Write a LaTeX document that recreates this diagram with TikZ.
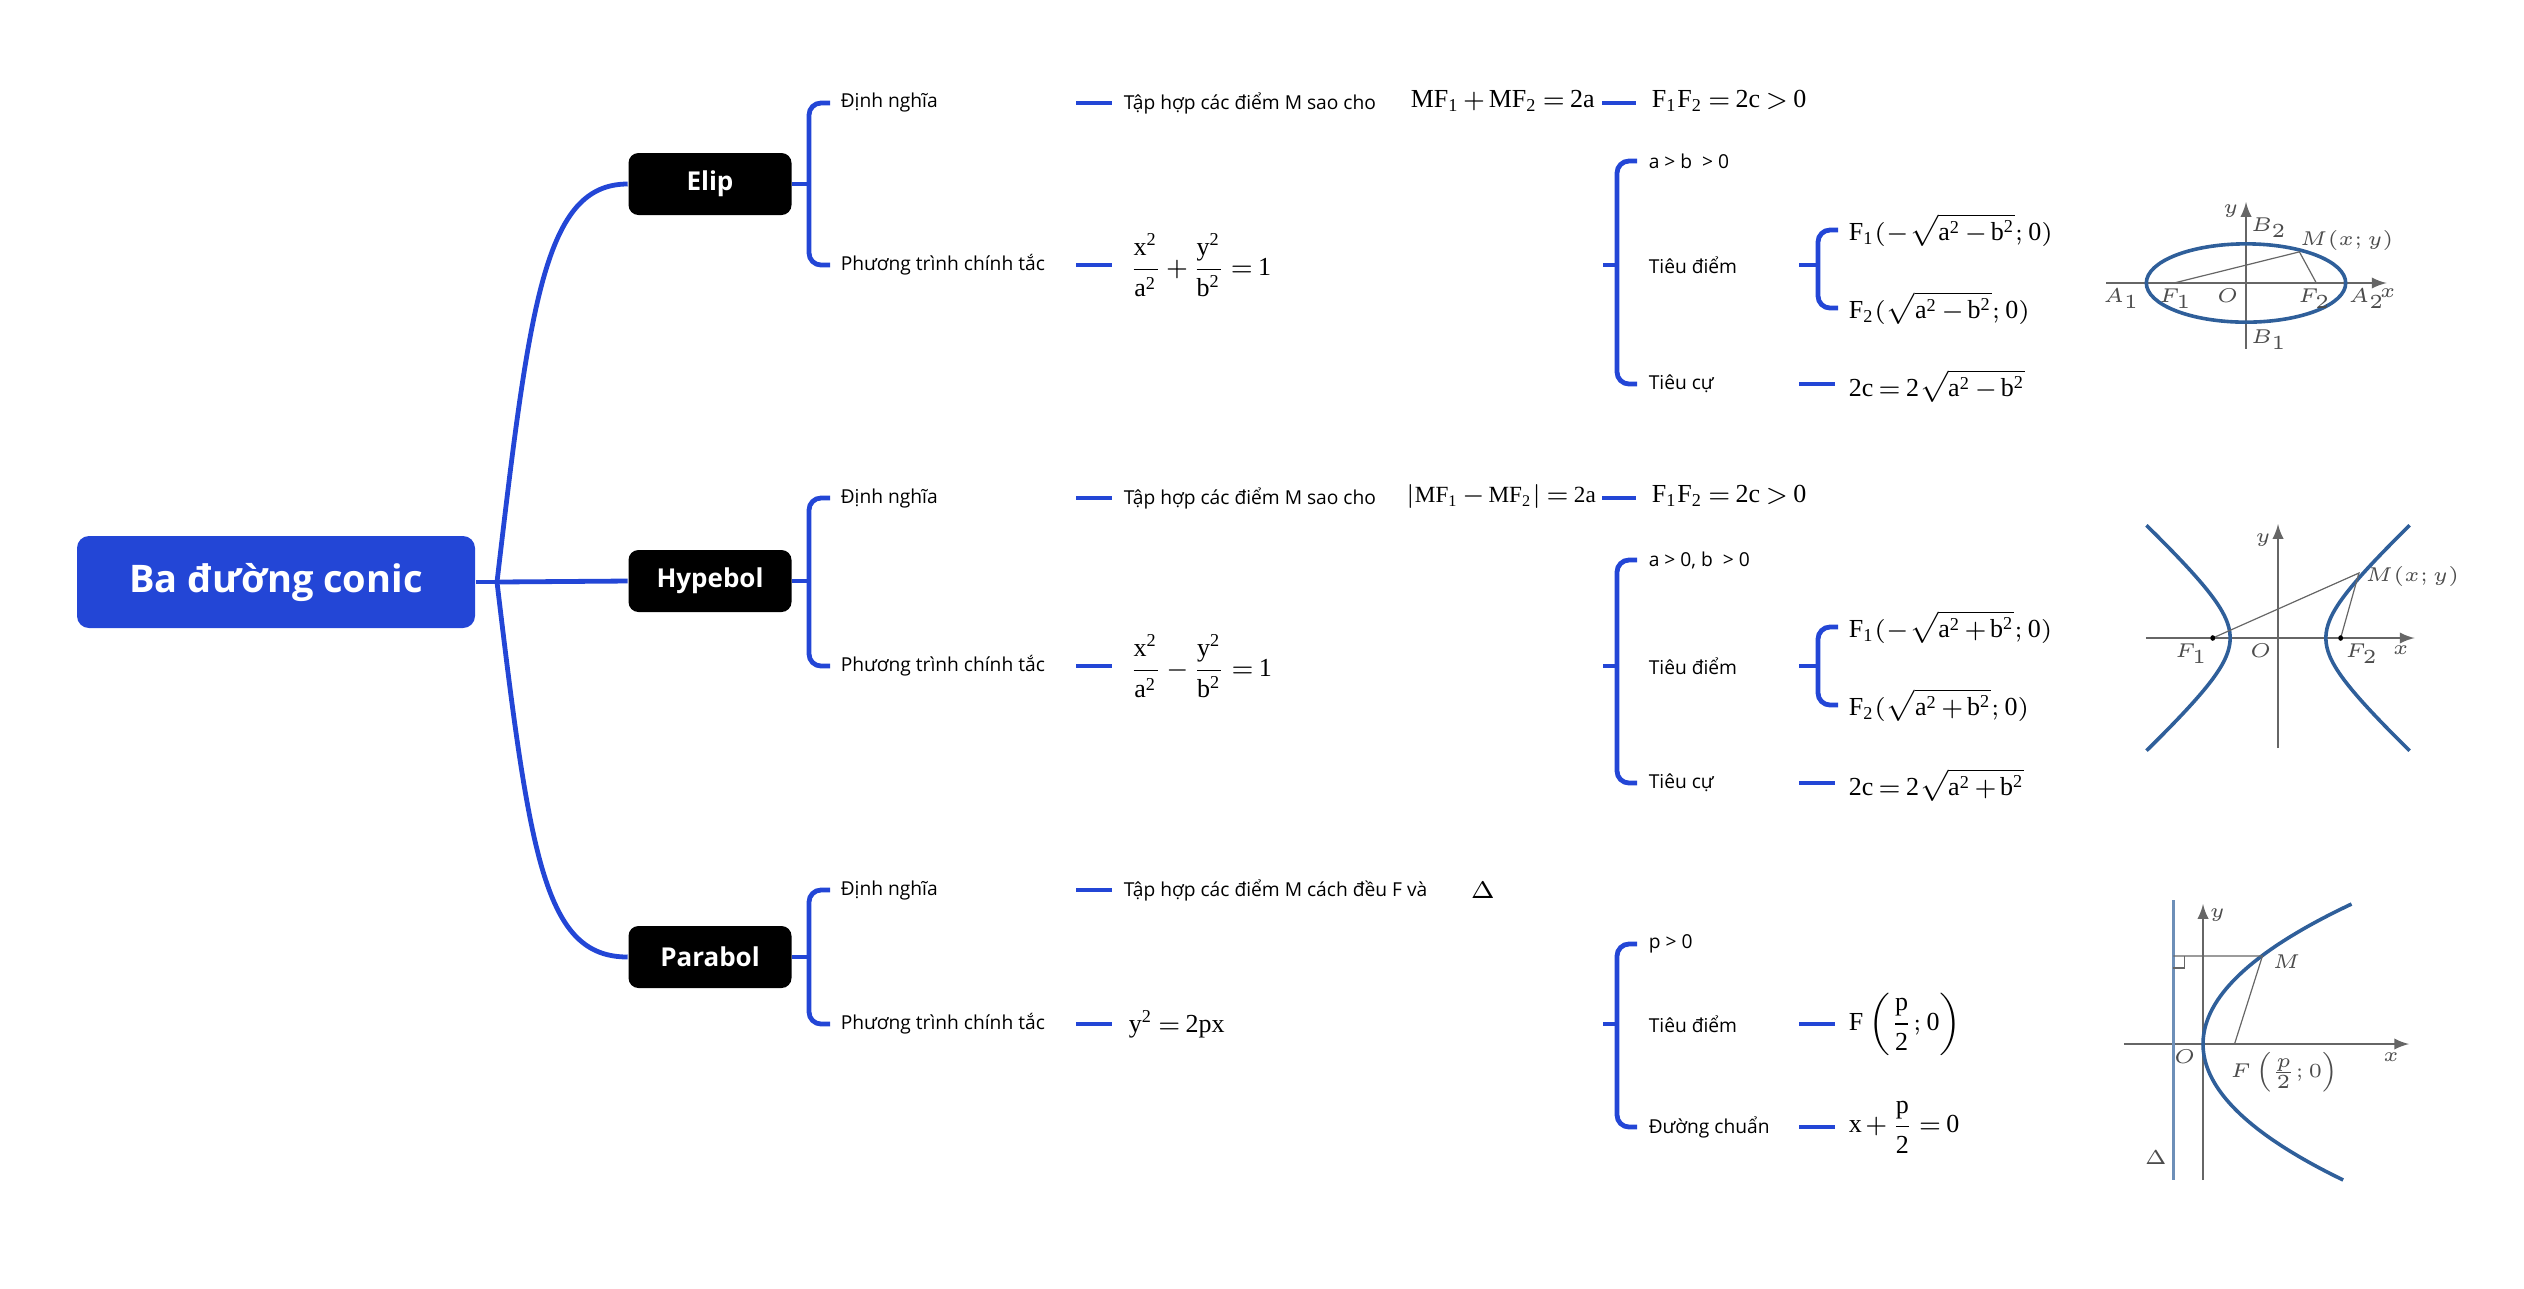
\documentclass[tikz,border=0pt]{standalone}
\usepackage{amsmath}
\usepackage[no-math]{fontspec}
\setmainfont{Open Sans}
\newfontfamily\tnrfam{Liberation Serif}
\newcommand{\tnrx}[1]{\text{\tnrfam #1}}
\newcommand{\tightmath}{\medmuskip=2mu\relax\thickmuskip=3mu\relax}
\begin{document}
\definecolor{mblue}{HTML}{2346D6}
\definecolor{cblue}{HTML}{2F5F9A}
\begin{tikzpicture}[x=0.25pt,y=-0.25pt,
  br/.style={draw=mblue,line width=1.2pt,rounded corners=3pt},
  txt/.style={anchor=west,inner sep=0pt,font=\fontsize{4.8}{6}\selectfont},
  fm/.style={anchor=west,inner sep=0pt,font=\fontsize{6.5}{7}\selectfont\tightmath},
  box/.style={fill=black,rounded corners=2.5pt,text=white,minimum width=163*0.25pt,minimum height=62*0.25pt,font=\bfseries\fontsize{6.5}{7}\selectfont,inner sep=0pt},
  ax/.style={line width=0.3pt,draw=gray!80!black},
  crv/.style={line width=0.9pt,draw=cblue},
  lb/.style={font=\fontsize{4.2}{5}\selectfont,inner sep=1pt,text=black!70}]
\useasboundingbox (0,0) rectangle (2524,1288);
\node[fill=mblue,rounded corners=3pt,text=white,minimum width=398*0.25pt,minimum height=92*0.25pt,font=\bfseries\fontsize{9.5}{10}\selectfont,inner sep=0pt] (root) at (276,582) {Ba đường conic};
\node[box] (elip) at (710,184) {Elip};
\node[box] (hyp) at (710,581) {Hypebol};
\node[box] (par) at (710,957) {Parabol};
\coordinate (hub) at (497,582);
\draw[br] (root.east) -- (hub);
\draw[br] (hub) .. controls (530,300) and (545,184) .. (elip.west);
\draw[br] (hub) -- (hyp.west);
\draw[br] (hub) .. controls (530,860) and (545,957) .. (par.west);

% Elip
\node[txt] (e1) at (840,103) {Định nghĩa};
\node[txt] (e2) at (840,265) {Phương trình chính tắc};
\draw[br] (elip.east) -- (809,184);
\draw[br] (830,103) -- (809,103) -- (809,265) -- (830,265);
\node[txt] (e1a) at (1123,103) {Tập hợp các điểm M sao cho};
\node[fm] (e1b) at (1410,101) {$\tnrx{MF}_{\tnrx{1}}+\tnrx{MF}_{\tnrx{2}}=\tnrx{2a}$};
\node[fm] (e1c) at (1651,101) {$\tnrx{F}_{\tnrx{1}}\tnrx{F}_{\tnrx{2}}=\tnrx{2c}>\tnrx{0}$};
\draw[br] (1076,103) -- (1112,103);
\draw[br] (1602,103) -- (1636,103);
\draw[br] (1076,265) -- (1112,265);
\node[fm] (e2a) at (1128,265) {$\dfrac{\tnrx{x}^{\tnrx{2}}}{\tnrx{a}^{\tnrx{2}}}+\dfrac{\tnrx{y}^{\tnrx{2}}}{\tnrx{b}^{\tnrx{2}}}=\tnrx{1}$};
\node[txt] (e3) at (1648,161) {a > b \ > 0};
\node[txt] (e4) at (1648,265) {Tiêu điểm};
\node[txt] (e5) at (1648,384) {Tiêu cự};
\draw[br] (1603,265) -- (1617,265);
\draw[br] (1637,161) -- (1617,161) -- (1617,384) -- (1637,384);
\draw[br] (1799,265) -- (1818,265);
\draw[br] (1838,230) -- (1818,230) -- (1818,308) -- (1838,308);
\node[fm] (e6) at (1848,230) {$\tnrx{F}_{\tnrx{1}}(-\sqrt{\tnrx{a}^{\tnrx{2}}-\tnrx{b}^{\tnrx{2}}};\tnrx{0})$};
\node[fm] (e7) at (1848,308) {$\tnrx{F}_{\tnrx{2}}(\sqrt{\tnrx{a}^{\tnrx{2}}-\tnrx{b}^{\tnrx{2}}};\tnrx{0})$};
\draw[br] (1799,384) -- (1835,384);
\node[fm] (e8) at (1848,386) {$\tnrx{2c}=\tnrx{2}\sqrt{\tnrx{a}^{\tnrx{2}}-\tnrx{b}^{\tnrx{2}}}$};

% Hypebol
\node[txt] (h1) at (840,498) {Định nghĩa};
\node[txt] (h2) at (840,666) {Phương trình chính tắc};
\draw[br] (hyp.east) -- (809,581);
\draw[br] (830,498) -- (809,498) -- (809,666) -- (830,666);
\node[txt] (h1a) at (1123,498) {Tập hợp các điểm M sao cho};
\node[fm,font=\fontsize{5.8}{7}\selectfont\tightmath] (h1b) at (1405,496) {$\left|\tnrx{MF}_{\tnrx{1}}-\tnrx{MF}_{\tnrx{2}}\right|=\tnrx{2a}$};
\node[fm] (h1c) at (1651,496) {$\tnrx{F}_{\tnrx{1}}\tnrx{F}_{\tnrx{2}}=\tnrx{2c}>\tnrx{0}$};
\draw[br] (1076,498) -- (1112,498);
\draw[br] (1602,498) -- (1636,498);
\draw[br] (1076,666) -- (1112,666);
\node[fm] (h2a) at (1128,666) {$\dfrac{\tnrx{x}^{\tnrx{2}}}{\tnrx{a}^{\tnrx{2}}}-\dfrac{\tnrx{y}^{\tnrx{2}}}{\tnrx{b}^{\tnrx{2}}}=\tnrx{1}$};
\node[txt] (h3) at (1648,560) {a > 0, b \ > 0};
\node[txt] (h4) at (1648,666) {Tiêu điểm};
\node[txt] (h5) at (1648,783) {Tiêu cự};
\draw[br] (1603,666) -- (1617,666);
\draw[br] (1637,560) -- (1617,560) -- (1617,783) -- (1637,783);
\draw[br] (1799,666) -- (1818,666);
\draw[br] (1838,627) -- (1818,627) -- (1818,705) -- (1838,705);
\node[fm] (h6) at (1848,627) {$\tnrx{F}_{\tnrx{1}}(-\sqrt{\tnrx{a}^{\tnrx{2}}+\tnrx{b}^{\tnrx{2}}};\tnrx{0})$};
\node[fm] (h7) at (1848,705) {$\tnrx{F}_{\tnrx{2}}(\sqrt{\tnrx{a}^{\tnrx{2}}+\tnrx{b}^{\tnrx{2}}};\tnrx{0})$};
\draw[br] (1799,783) -- (1835,783);
\node[fm] (h8) at (1848,785) {$\tnrx{2c}=\tnrx{2}\sqrt{\tnrx{a}^{\tnrx{2}}+\tnrx{b}^{\tnrx{2}}}$};

% Parabol
\node[txt] (p1) at (840,890) {Định nghĩa};
\node[txt] (p2) at (840,1024) {Phương trình chính tắc};
\draw[br] (par.east) -- (809,957);
\draw[br] (830,890) -- (809,890) -- (809,1024) -- (830,1024);
\node[txt] (p1a) at (1123,890) {Tập hợp các điểm M cách đều F và};
\node[fm] (p1b) at (1470,890) {$\Delta$};
\draw[br] (1076,890) -- (1112,890);
\draw[br] (1076,1024) -- (1112,1024);
\node[fm] (p2a) at (1128,1024) {$\tnrx{y}^{\tnrx{2}}=\tnrx{2px}$};
\node[txt] (p3) at (1648,944) {p > 0};
\node[txt] (p4) at (1648,1024) {Tiêu điểm};
\node[txt] (p5) at (1648,1127) {Đường chuẩn};
\draw[br] (1603,1024) -- (1617,1024);
\draw[br] (1637,944) -- (1617,944) -- (1617,1127) -- (1637,1127);
\draw[br] (1799,1024) -- (1835,1024);
\node[fm] (p6) at (1848,1024) {$\tnrx{F}\left(\dfrac{\tnrx{p}}{\tnrx{2}};\tnrx{0}\right)$};
\draw[br] (1799,1127) -- (1835,1127);
\node[fm] (p7) at (1848,1127) {$\tnrx{x}+\dfrac{\tnrx{p}}{\tnrx{2}}=\tnrx{0}$};

% ---------- ellipse figure ----------
\begin{scope}[shift={(2246,283)},scale=0.89,shift={(-2269,-283)}]
\draw[ax,-latex] (2112,283) -- (2427,283);
\draw[ax,-latex] (2269,357) -- (2269,192);
\draw[crv] (2269,283) ellipse [x radius=112,y radius=44];
\draw[ax] (2188,283) -- (2329,248) -- (2348,283);
\node[lb,anchor=north east] at (2155,284) {$A_1$};
\node[lb,anchor=north] at (2190,284) {$F_1$};
\node[lb,anchor=north east] at (2266,284) {$O$};
\node[lb,anchor=north] at (2346,284) {$F_2$};
\node[lb,anchor=north west] at (2379,284) {$A_2$};
\node[lb,anchor=north west] at (2414,284) {$x$};
\node[lb,anchor=east] at (2266,202) {$y$};
\node[lb,anchor=south west] at (2269,237) {$B_2$};
\node[lb,anchor=north west] at (2269,330) {$B_1$};
\node[lb,anchor=south west] at (2324,252) {$M(x;y)$};
\end{scope}

% ---------- hyperbola figure ----------
\begin{scope}[shift={(2278,638)},xscale=0.87,shift={(-2309,-653)}]
\draw[ax,-latex] (2157,653) -- (2466,653);
\draw[ax,-latex] (2309,763) -- (2309,539);
\draw[crv] plot[domain=-1.67:1.67,samples=40,smooth] ({2309+55*cosh(\x)},{653+44*sinh(\x)});
\draw[crv] plot[domain=-1.67:1.67,samples=40,smooth] ({2309-55*cosh(\x)},{653+44*sinh(\x)});
\draw[ax] (2234,653) -- (2402,588) -- (2381,653);
\fill (2234,653) circle (0.7pt) (2381,653) circle (0.7pt);
\node[lb,anchor=north east] at (2234,654) {$F_1$};
\node[lb,anchor=north east] at (2307,654) {$O$};
\node[lb,anchor=north west] at (2381,654) {$F_2$};
\node[lb,anchor=north] at (2450,656) {$x$};
\node[lb,anchor=east] at (2306,555) {$y$};
\node[lb,anchor=west] at (2404,591) {$M(x;y)$};
\end{scope}

% ---------- parabola figure ----------
\begin{scope}[shift={(2203,1044)},xscale=0.9,shift={(-2211,-1064)}]
\draw[ax,-latex] (2123,1064) -- (2440,1064);
\draw[ax,-latex] (2211,1200) -- (2211,924);
\draw[line width=0.6pt,draw=cblue!70] (2178,920) -- (2178,1200);
\draw[crv] plot[domain=-136:140,samples=50,smooth] ({2211+165*(\x/140)^2},{1064-\x});
\draw[ax] (2178,976) -- (2277,976) -- (2246,1064);
\draw[ax] (2178,988) -| (2190,976);
\node[lb,anchor=north east,font=\fontsize{5.5}{6}\selectfont] at (2208,1065) {$O$};
\node[lb,anchor=north west,font=\fontsize{5.5}{6}\selectfont] at (2236,1068) {$F\left(\frac{p}{2};0\right)$};
\node[lb,anchor=north west,font=\fontsize{5.5}{6}\selectfont] at (2283,970) {$M$};
\node[lb,anchor=north,font=\fontsize{5.5}{6}\selectfont] at (2420,1068) {$x$};
\node[lb,anchor=west,font=\fontsize{5.5}{6}\selectfont] at (2213,935) {$y$};
\node[lb,anchor=east,font=\fontsize{5.5}{6}\selectfont] at (2176,1178) {$\Delta$};
\end{scope}
\end{tikzpicture}
\end{document}
